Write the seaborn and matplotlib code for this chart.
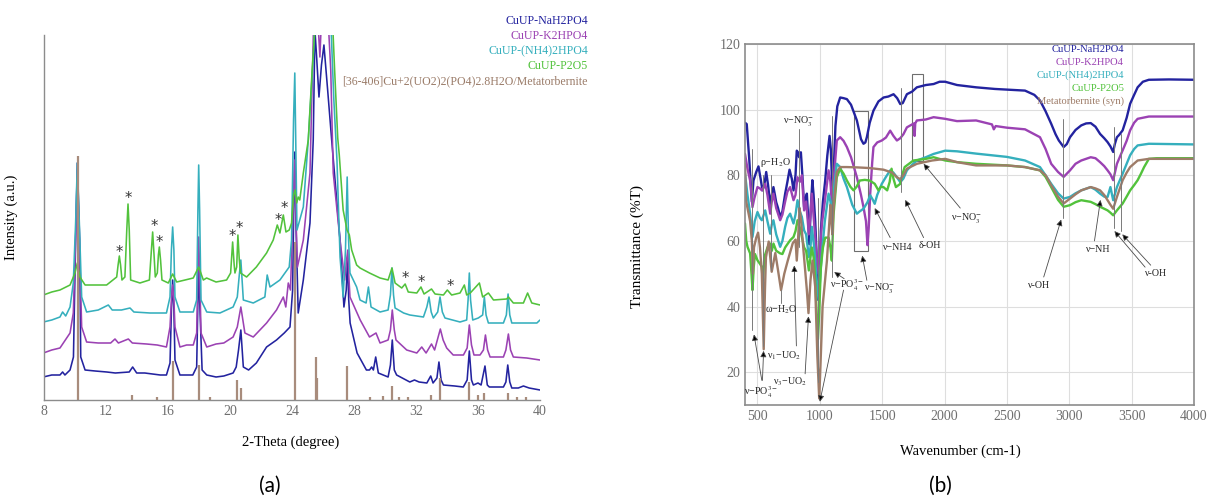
import numpy as np
import pandas as pd
import matplotlib
matplotlib.use("Agg")
import matplotlib.pyplot as plt
from matplotlib.patches import Rectangle
from matplotlib.ticker import MultipleLocator
import seaborn as sns

# ---------------- DATA: XRD (panel a) : (2theta, intensity a.u.) ----------------
xrd_nah2po4 = [(7.95, 23), (8.5, 25), (9.03, 25), (9.2, 28), (9.35, 25), (9.68, 30), (9.9, 43), (10.04, 160),
    (10.15, 237), (10.3, 160), (10.37, 43), (10.65, 30), (11.3, 29), (12.05, 28), (12.6, 27), (13.5, 28),
    (13.72, 33), (13.98, 27), (14.5, 27), (15.0, 26), (15.5, 25), (15.9, 25), (16.13, 37), (16.22, 90),
    (16.3, 120), (16.38, 90), (16.45, 40), (16.77, 25), (17.2, 25), (17.6, 25), (17.85, 33), (17.93, 100),
    (17.98, 140), (18.04, 100), (18.2, 30), (18.5, 25), (19.1, 23), (19.6, 24), (20.2, 27), (20.4, 33),
    (20.55, 50), (20.7, 70), (20.86, 33), (21.2, 30), (21.7, 37), (22.36, 53), (23.0, 60), (23.5, 67),
    (23.87, 73), (24.04, 110), (24.12, 200), (24.18, 248), (24.25, 180), (24.4, 87), (24.73, 120),
    (25.16, 177), (25.37, 260), (25.48, 370), (25.6, 340), (25.74, 303), (25.9, 335), (26.06, 355),
    (26.3, 310), (26.56, 260), (27.1, 160), (27.35, 93), (27.5, 110), (27.58, 140), (27.66, 100),
    (27.75, 77), (28.2, 47), (28.8, 30), (29.0, 30), (29.14, 33), (29.25, 30), (29.4, 43), (29.57, 27),
    (30.2, 23), (30.35, 35), (30.47, 60), (30.6, 30), (30.75, 25), (31.6, 18), (31.9, 20), (32.2, 18),
    (32.7, 17), (32.95, 24), (33.1, 17), (33.35, 22), (33.48, 38), (33.62, 20), (33.77, 15), (34.5, 14),
    (35.05, 13), (35.3, 20), (35.44, 49), (35.58, 20), (35.7, 15), (36.0, 17), (36.2, 15), (36.45, 34),
    (36.6, 15), (36.73, 13), (37.64, 13), (37.8, 18), (37.92, 35), (38.05, 18), (38.18, 12), (38.6, 12),
    (38.93, 14), (39.3, 12), (40.0, 10)]
xrd_k2hpo4 = [(7.96, 47), (8.5, 50), (9.03, 52), (9.68, 67), (9.89, 87), (10.04, 160), (10.15, 230),
    (10.28, 160), (10.43, 73), (10.75, 58), (11.5, 57), (12.3, 57), (12.58, 61), (12.8, 57), (13.44, 61),
    (13.7, 57), (14.62, 56), (15.3, 55), (15.9, 53), (16.13, 73), (16.22, 100), (16.3, 115), (16.38, 100),
    (16.45, 73), (16.77, 53), (17.2, 55), (17.63, 55), (17.85, 67), (17.93, 130), (17.98, 163),
    (18.04, 130), (18.13, 67), (18.5, 53), (19.1, 56), (19.6, 57), (20.2, 63), (20.47, 73), (20.7, 93),
    (20.96, 67), (21.5, 63), (22.36, 77), (23.0, 90), (23.44, 103), (23.6, 93), (23.76, 117), (23.9, 110),
    (24.08, 193), (24.17, 240), (24.26, 180), (24.35, 133), (24.73, 160), (25.16, 227), (25.4, 380),
    (25.6, 400), (25.8, 343), (26.0, 420), (26.3, 390), (26.5, 330), (26.66, 227), (27.1, 160),
    (27.4, 120), (27.52, 140), (27.6, 150), (27.68, 120), (27.74, 103), (28.4, 80), (29.0, 63),
    (29.42, 67), (29.68, 57), (30.2, 60), (30.35, 70), (30.47, 90), (30.6, 70), (30.71, 60), (31.4, 50),
    (32.05, 47), (32.37, 53), (32.65, 47), (33.0, 56), (33.2, 50), (33.57, 71), (33.75, 60), (33.98, 52),
    (34.4, 45), (35.06, 45), (35.3, 52), (35.44, 75), (35.58, 55), (35.74, 45), (36.13, 45), (36.35, 50),
    (36.48, 65), (36.62, 50), (36.78, 43), (37.64, 43), (37.8, 50), (37.96, 66), (38.1, 50), (38.28, 43),
    (39.14, 42), (40.0, 40)]
xrd_nh4hpo4 = [(7.96, 78), (8.5, 80), (9.03, 83), (9.2, 88), (9.4, 84), (9.68, 93), (9.89, 117),
    (10.04, 177), (10.15, 237), (10.28, 177), (10.43, 103), (10.75, 88), (11.5, 90), (12.15, 95),
    (12.4, 90), (13.0, 90), (13.55, 92), (13.8, 88), (14.84, 87), (15.9, 87), (16.13, 103), (16.22, 150),
    (16.3, 173), (16.38, 150), (16.45, 103), (16.77, 88), (17.63, 88), (17.85, 100), (17.93, 190),
    (17.98, 235), (18.04, 190), (18.13, 100), (18.5, 88), (19.35, 87), (20.2, 93), (20.47, 103),
    (20.6, 125), (20.7, 140), (20.8, 115), (20.86, 100), (21.5, 97), (22.25, 103), (22.4, 125),
    (22.58, 113), (23.22, 120), (23.82, 133), (23.97, 160), (24.1, 280), (24.18, 327), (24.25, 250),
    (24.32, 170), (24.73, 193), (25.05, 260), (25.4, 350), (25.6, 420), (26.0, 450), (26.4, 420),
    (26.7, 300), (26.9, 240), (27.1, 143), (27.3, 103), (27.45, 150), (27.56, 223), (27.65, 160),
    (27.74, 127), (28.17, 113), (28.39, 100), (28.78, 97), (28.93, 113), (29.1, 93), (29.68, 88),
    (30.2, 90), (30.35, 105), (30.45, 132), (30.55, 105), (30.65, 92), (31.2, 87), (31.6, 85),
    (32.48, 83), (32.7, 93), (32.84, 103), (32.98, 88), (33.12, 82), (33.4, 88), (33.55, 103),
    (33.7, 88), (33.87, 82), (34.84, 78), (35.27, 80), (35.36, 100), (35.44, 127), (35.52, 100),
    (35.66, 80), (36.02, 82), (36.3, 85), (36.41, 103), (36.52, 85), (36.67, 77), (37.64, 77),
    (37.83, 85), (37.94, 106), (38.05, 85), (38.18, 77), (39.8, 77), (40.0, 80)]
xrd_p2o5 = [(7.96, 105), (8.5, 108), (9.03, 110), (9.68, 115), (10.0, 127), (10.15, 137), (10.32, 123),
    (10.65, 115), (11.3, 115), (12.04, 115), (12.69, 123), (12.78, 135), (12.86, 144), (12.94, 135),
    (13.03, 120), (13.22, 123), (13.34, 170), (13.42, 196), (13.5, 170), (13.59, 120), (14.19, 117),
    (14.8, 120), (14.93, 150), (15.01, 168), (15.1, 145), (15.18, 123), (15.31, 127), (15.38, 145),
    (15.44, 153), (15.52, 140), (15.61, 120), (16.02, 117), (16.3, 126), (16.56, 118), (17.1, 120),
    (17.63, 122), (17.98, 133), (18.28, 120), (18.49, 122), (19.1, 118), (19.78, 120), (20.04, 127),
    (20.17, 158), (20.27, 135), (20.32, 127), (20.43, 133), (20.51, 165), (20.6, 140), (20.68, 127),
    (21.07, 123), (21.7, 133), (22.36, 147), (22.79, 160), (23.05, 175), (23.22, 167), (23.44, 185),
    (23.61, 168), (23.82, 170), (23.97, 177), (24.1, 205), (24.2, 210), (24.3, 197), (24.4, 203),
    (24.5, 200), (24.73, 227), (25.05, 260), (25.3, 330), (25.6, 400), (26.0, 450), (26.5, 420),
    (26.75, 330), (26.95, 262), (27.05, 245), (27.3, 190), (27.55, 170), (27.7, 165), (27.85, 150),
    (28.17, 135), (28.39, 132), (29.0, 127), (29.68, 122), (30.2, 120), (30.45, 132), (30.65, 117),
    (31.08, 112), (31.3, 116), (31.5, 108), (32.05, 107), (32.32, 113), (32.52, 106), (33.0, 111),
    (33.23, 106), (33.77, 105), (34.02, 110), (34.3, 105), (34.84, 107), (35.12, 115), (35.27, 105),
    (35.5, 107), (36.09, 117), (36.3, 103), (36.67, 107), (37.0, 100), (37.85, 101), (37.96, 103),
    (38.28, 97), (38.93, 97), (39.2, 107), (39.47, 97), (40.0, 95)]
ref_pos = [10.17, 13.65, 15.29, 16.3, 17.97, 18.7, 20.43, 20.68, 24.17, 25.52, 25.63, 27.55, 29.03,
           29.9, 30.45, 30.9, 31.5, 32.95, 33.55, 35.44, 35.98, 36.41, 37.92, 38.5, 39.08]
ref_int = [244, 5, 3, 39, 35, 3, 20, 12, 158, 43, 22, 34, 3, 4, 14, 3, 3, 5, 22, 18, 5, 7, 7, 3, 3]
star_pos = [12.87, 13.44, 15.09, 15.44, 20.14, 20.58, 23.1, 23.49, 31.3, 32.36, 34.2]
star_int = [148, 202, 173, 158, 163, 172, 179, 191, 122, 118, 113]
xrd_labels = ["CuUP-NaH2PO4", "CuUP-K2HPO4", "CuUP-(NH4)2HPO4", "CuUP-P2O5",
              "[36-406]Cu+2(UO2)2(PO4)2.8H2O/Metatorbernite"]

# ---------------- DATA: FTIR (panel b) : (wavenumber, %T) ----------------
ir_nah2po4 = [(400, 96), (414, 95.6), (433, 85.5), (455, 72), (468, 78.4), (490, 81), (508, 82.7),
    (525, 79), (540, 75.4), (555, 77), (570, 81), (585, 77), (602, 71.3), (615, 74), (628, 76.4),
    (640, 74), (650, 71.8), (665, 70), (682, 67.3), (700, 69), (722, 74.4), (740, 78), (757, 81.7),
    (775, 79), (789, 75.4), (805, 80), (815, 87.5), (825, 87), (834, 85.5), (848, 87), (860, 80),
    (874, 70.3), (886, 73), (896, 74.4), (905, 68), (915, 59), (925, 68), (940, 78.5), (950, 74),
    (963, 66), (975, 55), (988, 42), (998, 48), (1008, 63), (1025, 72), (1043, 78.4), (1060, 86),
    (1078, 92), (1088, 88), (1100, 76), (1110, 80), (1125, 95), (1140, 101), (1163, 103.7),
    (1190, 103.5), (1217, 103.2), (1250, 101.5), (1297, 96.7), (1330, 91), (1350, 89.6), (1365, 90),
    (1377, 91.6), (1400, 96), (1430, 99.7), (1470, 102.5), (1511, 103.7), (1550, 104), (1591, 104.7),
    (1620, 103.5), (1645, 101.7), (1665, 102), (1698, 104.7), (1740, 105.5), (1778, 106.8),
    (1850, 107.5), (1912, 107.8), (1960, 108.5), (2005, 108.5), (2100, 107.5), (2253, 106.8),
    (2404, 106.3), (2645, 105.8), (2720, 104.5), (2765, 102.8), (2810, 99.5), (2855, 95.7),
    (2890, 92.5), (2916, 90.6), (2955, 88.6), (2980, 89.5), (3006, 91.6), (3050, 93.8), (3096, 95.2),
    (3135, 95.8), (3172, 95.9), (3210, 94.8), (3247, 92.6), (3280, 91.3), (3307, 90.1), (3330, 88.8),
    (3352, 87.1), (3365, 89.5), (3382, 91.6), (3400, 92.3), (3428, 93.7), (3460, 97.5), (3488, 101.8),
    (3520, 104.5), (3548, 106.8), (3590, 108.5), (3638, 109.1), (3800, 109.2), (4000, 109.1)]
ir_k2hpo4 = [(400, 86.5), (420, 82), (441, 78.4), (460, 70.3), (475, 73), (500, 76.4), (520, 76),
    (535, 75.4), (562, 77.4), (580, 74), (602, 68.3), (615, 72), (628, 74.4), (650, 70), (682, 66.3),
    (700, 68), (722, 72), (740, 75), (762, 76.4), (789, 72.4), (805, 74), (821, 79.4), (840, 78),
    (856, 80), (874, 69.3), (890, 72), (912, 62), (925, 68), (936, 74.4), (955, 65), (975, 55),
    (990, 50), (1000, 55), (1016, 65), (1040, 72), (1070, 81.5), (1085, 78), (1096, 71.3), (1110, 78),
    (1136, 90.6), (1163, 91.6), (1190, 90.5), (1217, 88.6), (1250, 85.5), (1297, 79.4), (1330, 74),
    (1350, 70.3), (1370, 66), (1382, 58.7), (1392, 64), (1404, 74.4), (1420, 84), (1430, 88.6),
    (1460, 90), (1497, 90.6), (1530, 91.5), (1564, 93.6), (1590, 92), (1618, 90.6), (1645, 91.3),
    (1670, 92.5), (1698, 94.6), (1740, 95.5), (1755, 95.8), (1760, 92), (1765, 95.8), (1778, 96.7),
    (1850, 97), (1912, 97.7), (2005, 97.2), (2100, 96.5), (2253, 96.7), (2380, 95.5), (2395, 94),
    (2410, 95), (2500, 94.5), (2645, 94), (2765, 91.6), (2810, 88), (2855, 83.5), (2910, 81),
    (2955, 79.5), (3006, 81.5), (3050, 83.5), (3096, 84.5), (3172, 85.5), (3210, 85.2), (3247, 84),
    (3280, 82.8), (3307, 81.5), (3330, 80.3), (3352, 78.5), (3382, 83.5), (3428, 87.6), (3460, 90.5),
    (3488, 93.7), (3520, 96), (3548, 97.2), (3638, 97.9), (4000, 97.9)]
ir_nh4hpo4 = [(400, 80.5), (420, 74), (441, 68.3), (460, 61.2), (478, 66), (500, 68.8), (520, 67),
    (535, 66.3), (562, 69.3), (580, 66), (602, 62.2), (615, 65), (628, 66.3), (650, 62), (682, 58.2),
    (700, 60), (722, 64.3), (740, 67), (762, 68.3), (789, 65.3), (805, 68), (821, 72.4), (840, 69),
    (856, 67.3), (874, 63.2), (890, 62), (912, 55.1), (925, 58), (936, 64.3), (955, 58), (975, 48),
    (990, 42), (1000, 47), (1016, 56), (1040, 66), (1070, 74.4), (1085, 72), (1096, 67.3), (1110, 75),
    (1136, 83.5), (1163, 82.5), (1190, 79), (1217, 76.4), (1260, 71), (1297, 68.3), (1320, 69),
    (1350, 69.8), (1382, 71.8), (1404, 73.9), (1425, 72.5), (1440, 71.3), (1460, 74), (1497, 77.4),
    (1530, 79.5), (1564, 81.5), (1590, 80.8), (1618, 79.4), (1645, 77.9), (1670, 79), (1698, 81.5),
    (1740, 83.2), (1778, 84.5), (1850, 85.5), (1912, 86.5), (2005, 87.5), (2100, 87.3), (2253, 86.6),
    (2500, 85.6), (2645, 84.5), (2765, 82.5), (2810, 80), (2855, 77.4), (2910, 74.5), (2955, 72.9),
    (3006, 73.4), (3050, 74.5), (3096, 75.4), (3172, 76.4), (3210, 75.6), (3247, 74.4), (3280, 73.5),
    (3307, 73.4), (3330, 76.4), (3352, 72.4), (3382, 76.4), (3428, 80.5), (3460, 83.5), (3488, 86.1),
    (3520, 88), (3548, 89.1), (3638, 89.6), (4000, 89.4)]
ir_p2o5 = [(400, 65.3), (410, 60), (420, 58.2), (441, 56.2), (452, 50), (460, 45), (470, 52), (480, 56),
    (500, 54.1), (520, 53), (535, 52.1), (545, 48), (555, 55.1), (580, 58), (602, 59.2), (615, 57),
    (628, 59.2), (650, 57), (682, 56.2), (700, 56), (722, 58), (740, 59), (762, 60.2), (789, 61.2),
    (805, 63), (821, 66.3), (840, 64), (856, 61.2), (874, 58), (890, 57), (912, 51), (925, 55),
    (936, 58), (950, 55), (963, 48), (975, 38), (985, 30), (995, 38), (1008, 52), (1025, 58),
    (1043, 61), (1070, 61), (1085, 58), (1096, 54), (1110, 68), (1136, 79.4), (1163, 82), (1190, 80.5),
    (1217, 78.4), (1245, 76.5), (1270, 75.4), (1295, 76.5), (1320, 78.4), (1360, 78.6), (1400, 78.4),
    (1440, 77.4), (1470, 75.4), (1490, 76.5), (1510, 76.4), (1540, 75.4), (1560, 78), (1575, 82),
    (1590, 79), (1610, 76.4), (1645, 77.4), (1660, 80), (1680, 82.5), (1750, 84.5), (1850, 85),
    (1912, 85.5), (2005, 84.5), (2100, 84), (2253, 83.5), (2500, 83), (2645, 82.5), (2765, 81.5),
    (2810, 79.5), (2855, 76.4), (2910, 72.5), (2955, 70.4), (3006, 70.9), (3050, 71.8), (3096, 72.4),
    (3172, 71.9), (3210, 71.2), (3247, 70.4), (3280, 69.8), (3307, 69.3), (3330, 68.6), (3352, 67.8),
    (3382, 69.3), (3428, 71.4), (3460, 73.5), (3488, 75.4), (3520, 77), (3548, 78.5), (3575, 80.5),
    (3600, 82.5), (3638, 85), (3700, 85.2), (4000, 85.2)]
ir_metatorbernite = [(400, 83.5), (408, 72.4), (420, 70), (441, 66), (455, 60), (463, 50), (472, 58),
    (490, 61), (505, 62.5), (520, 58), (535, 50), (550, 27), (560, 45), (568, 55), (590, 59.8),
    (614, 50.6), (643, 56.3), (665, 51), (689, 45), (715, 50), (743, 54), (783, 59.3), (805, 60.4),
    (815, 54), (825, 60), (837, 70), (850, 66), (869, 57), (896, 45), (909, 38), (925, 48), (941, 54),
    (963, 46), (980, 25), (995, 12), (1005, 22), (1022, 40), (1057, 54), (1075, 65), (1085, 71),
    (1093, 66), (1100, 62), (1110, 70), (1136, 81), (1163, 82.5), (1217, 82.5), (1300, 82.4),
    (1400, 82.2), (1511, 81.7), (1580, 80.8), (1618, 79.4), (1645, 78.8), (1670, 80), (1698, 82),
    (1778, 83.5), (1900, 84.5), (2005, 85), (2100, 84), (2253, 83), (2500, 83), (2645, 82.5),
    (2765, 81.5), (2810, 80), (2855, 77), (2910, 73.5), (2955, 71.4), (3006, 72.9), (3050, 74.2),
    (3096, 75.4), (3172, 76.4), (3210, 76), (3247, 75.4), (3280, 74), (3307, 72.4), (3330, 71),
    (3352, 69.8), (3382, 73.4), (3428, 78.5), (3460, 80.8), (3488, 82.5), (3548, 84.5), (3638, 85),
    (4000, 85)]
ir_labels = ["CuUP-NaH2PO4", "CuUP-K2HPO4", "CuUP-(NH4)2HPO4", "CuUP-P2O5", "Metatorbernite (syn)"]

# annotation marks (wavenumber, %T)
ir_vlines = [(455, 33, 88), (548, 28, 80), (610, 51, 80), (689, 41, 45), (830, 58, 94),
             (985, 17, 73), (1100, 49, 98), (1650, 75, 106.5), (2950, 67, 97), (3355, 64, 94.7),
             (3415, 63, 92.6)]
ir_boxes = [(1271, 56.9, 118, 42.8), (1735, 84.3, 90, 26.6)]
ir_arrows = [((535, 17.5), (472, 31.5)), ((540, 17.5), (549, 26.5)), ((812, 28), (795, 52.5)),
             ((882, 19.5), (909, 37)), ((1195, 48.5), (1115, 50.5)), ((1190, 45), (1000, 11)),
             ((1377, 48), (1340, 55.5)), ((1564, 61), (1440, 70)), ((1832, 61), (1685, 72.5)),
             ((2126, 70), (1832, 83.5)), ((2795, 49), (2935, 66.5)), ((3202, 60), (3250, 72.5)),
             ((3608, 52), (3362, 63)), ((3653, 52.6), (3425, 62))]
ir_texts = [("ρ−H$_2$O", 640, 84), ("ν−NO$_3^{-}$", 830, 96.5), ("ω−H$_2$O", 690, 39),
            ("ν$_1$−UO$_2$", 715, 25), ("ν$_3$−UO$_2$", 765, 17.2), ("ν−PO$_4^{3-}$", 530, 13.8),
            ("ν−PO$_4^{3-}$", 1215, 46.5), ("ν−NO$_3^{-}$", 1480, 45.5), ("ν−NH4", 1620, 58),
            ("δ-OH", 1885, 58.5), ("ν−NO$_3^{-}$", 2180, 67), ("ν-OH", 2750, 46.5),
            ("ν−NH", 3225, 57.5), ("ν-OH", 3685, 50)]

colors = ["#23239f", "#9b42b3", "#35afbd", "#52c23c", "#9e7c68"]
stick_color = "#a88c7c"

# ---------------- STYLE ----------------
sns.set_style("white")
plt.rcParams["font.family"] = ["Liberation Serif", "DejaVu Serif"]
plt.rcParams["mathtext.fontset"] = "stix"
grey = "#8c8c8c"
tick_grey = "#6e6e6e"

fig = plt.figure(figsize=(12.07, 5.01), dpi=100)
axa = fig.add_axes([44 / 1207, 1 - 400 / 501, 496 / 1207, 365 / 501])
axb = fig.add_axes([745 / 1207, 1 - 405 / 501, 449 / 1207, 361 / 501])

# ---------------- PANEL (a) ----------------
xrd_series = [xrd_nah2po4, xrd_k2hpo4, xrd_nh4hpo4, xrd_p2o5]
for s, c in zip(xrd_series, colors[:4]):
    arr = np.array(s)
    df = pd.DataFrame({"x": arr[:, 0], "y": arr[:, 1]})
    sns.lineplot(data=df, x="x", y="y", ax=axa, color=c, lw=1.15, sort=False, estimator=None)
axa.vlines(ref_pos, 0, ref_int, color=stick_color, lw=1.6)
for xp, yp in zip(star_pos, star_int):
    axa.text(xp, yp, "*", ha="center", va="center", fontsize=10.5, color="#333333",
             family="DejaVu Sans")
axa.set_xlim(8, 40)
axa.set_ylim(0, 365)
axa.set_xticks(np.arange(8, 41, 4))
axa.xaxis.set_minor_locator(MultipleLocator(1))
axa.set_yticks([])
for sp in ["top", "right"]:
    axa.spines[sp].set_visible(False)
for sp in ["left", "bottom"]:
    axa.spines[sp].set_color(grey)
    axa.spines[sp].set_linewidth(1.0)
axa.tick_params(axis="x", which="both", direction="in", colors=grey, labelcolor=tick_grey,
                labelsize=10)
axa.tick_params(axis="x", which="major", length=5)
axa.tick_params(axis="x", which="minor", length=3)
axa.set_xlabel("2-Theta (degree)", fontsize=10.5, color="black")
axa.set_ylabel("Intensity (a.u.)", fontsize=10.5, color="black")
axa.xaxis.set_label_coords(0.498, -0.098)
axa.yaxis.set_label_coords(-0.053, 0.5)

for i, (lab, c) in enumerate(zip(xrd_labels, colors)):
    fig.text(588 / 1207, 1 - (21 + 15 * i) / 501, lab, ha="right", va="center", fontsize=8.6,
             color=c if i < 4 else "#9a7b68")

# ---------------- PANEL (b) ----------------
ir_series = [ir_nah2po4, ir_k2hpo4, ir_nh4hpo4, ir_p2o5, ir_metatorbernite]
axb.grid(True, color="#dedede", lw=0.8)
axb.set_axisbelow(True)
for s, c in zip(ir_series, colors):
    arr = np.array(s)
    df = pd.DataFrame({"x": arr[:, 0], "y": arr[:, 1]})
    sns.lineplot(data=df, x="x", y="y", ax=axb, color=c, lw=1.7, sort=False, estimator=None)

for (xv, y0, y1) in ir_vlines:
    axb.plot([xv, xv], [y0, y1], color="#7a7a7a", lw=0.7)
for (x0, y0, w, h) in ir_boxes:
    axb.add_patch(Rectangle((x0, y0), w, h, fill=False, ec="#6e6e6e", lw=0.8))
for (tail, head) in ir_arrows:
    axb.annotate("", xy=head, xytext=tail,
                 arrowprops=dict(arrowstyle="-|>", color="#4a4a4a", lw=0.6, mutation_scale=9,
                                 shrinkA=0, shrinkB=0, fc="black"))
for (t, xv, yv) in ir_texts:
    axb.text(xv, yv, t, ha="center", va="center", fontsize=7.2, color="#222222")

axb.set_xlim(400, 4000)
axb.set_ylim(10, 120)
axb.set_xticks(np.arange(500, 4001, 500))
axb.set_yticks(np.arange(20, 121, 20))
axb.xaxis.set_minor_locator(MultipleLocator(250))
axb.yaxis.set_minor_locator(MultipleLocator(10))
for sp in axb.spines.values():
    sp.set_visible(True)
    sp.set_color(grey)
    sp.set_linewidth(1.2)
axb.tick_params(which="both", direction="in", colors=grey, labelcolor=tick_grey, labelsize=10)
axb.tick_params(which="major", length=5)
axb.tick_params(which="minor", length=3)
axb.set_xlabel("Wavenumber (cm-1)", fontsize=10.5, color="black")
axb.set_ylabel("Transmittance (%T)", fontsize=11, color="black")
axb.xaxis.set_label_coords(0.48, -0.11)
axb.yaxis.set_label_coords(-0.225, 0.44)

for i, (lab, c) in enumerate(zip(ir_labels, colors)):
    axb.text((1124 - 745) / 449, 1 - (50 + 12.7 * i - 44) / 361, lab, transform=axb.transAxes,
             ha="right", va="center", fontsize=7.6, color=c)

# captions
fig.text(270 / 1207, 1 - 486 / 501, "(a)", ha="center", va="center", fontsize=15,
         family="Lato", color="black")
fig.text(940 / 1207, 1 - 486 / 501, "(b)", ha="center", va="center", fontsize=15,
         family="Lato", color="black")

fig.savefig("out.png", dpi=100)
